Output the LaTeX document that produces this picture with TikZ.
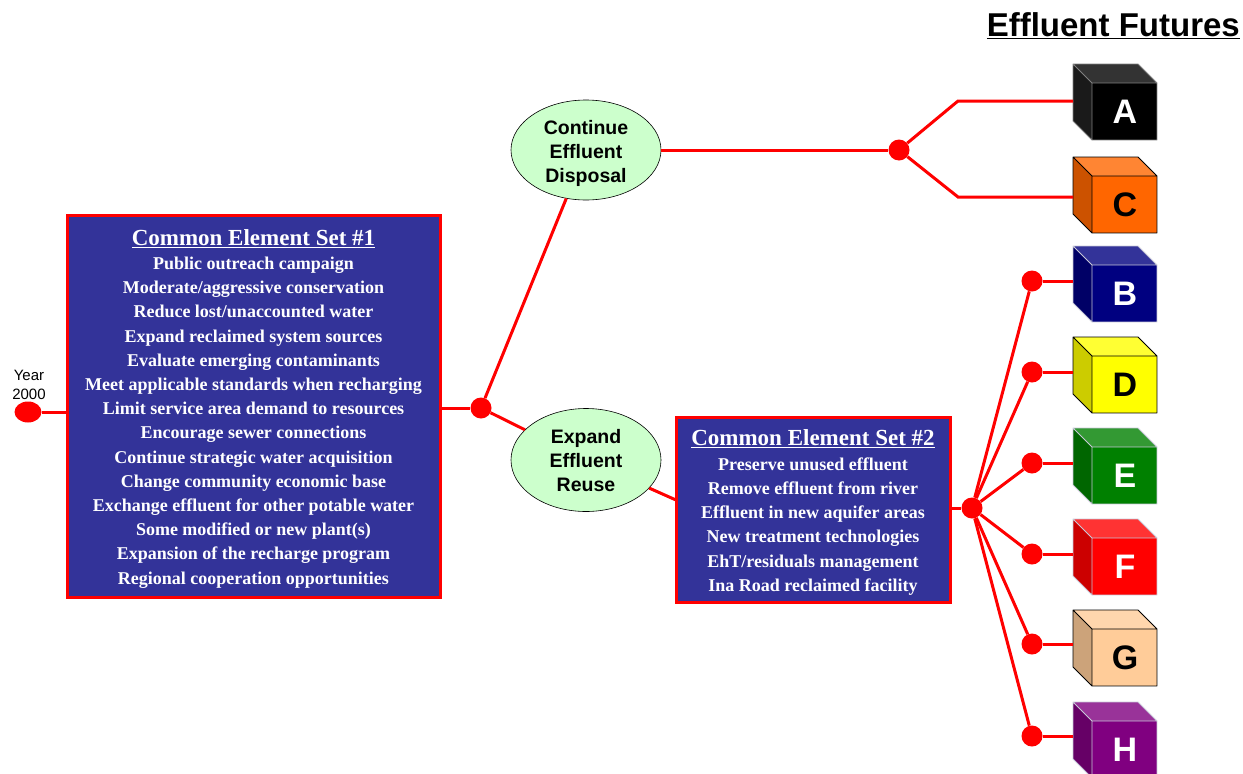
\documentclass[tikz,border=0pt]{standalone}
\usepackage{fontspec}
\setmainfont{Liberation Serif}
\newfontfamily\arialf{Liberation Sans}
\usetikzlibrary{shapes.geometric}
\definecolor{boxblue}{HTML}{333399}
\definecolor{ellgreen}{HTML}{CCFFCC}
\definecolor{cFront}{HTML}{FF6600}\definecolor{cTop}{HTML}{FF8533}\definecolor{cSide}{HTML}{CC5200}
\definecolor{bFront}{HTML}{000080}\definecolor{bTop}{HTML}{333399}\definecolor{bSide}{HTML}{000066}
\definecolor{dFront}{HTML}{FFFF00}\definecolor{dTop}{HTML}{FFFF33}\definecolor{dSide}{HTML}{CCCC00}
\definecolor{eFront}{HTML}{008000}\definecolor{eTop}{HTML}{339933}\definecolor{eSide}{HTML}{006600}
\definecolor{fFront}{HTML}{FF0000}\definecolor{fTop}{HTML}{FF3333}\definecolor{fSide}{HTML}{CC0000}
\definecolor{gFront}{HTML}{FFCC99}\definecolor{gTop}{HTML}{FFD6AD}\definecolor{gSide}{HTML}{CCA37A}
\definecolor{hFront}{HTML}{800080}\definecolor{hTop}{HTML}{993399}\definecolor{hSide}{HTML}{660066}
\definecolor{aFront}{HTML}{000000}\definecolor{aTop}{HTML}{333333}\definecolor{aSide}{HTML}{1A1A1A}
\definecolor{lightedge}{HTML}{C8C8D8}
\newcommand\settitlefont{\fontsize{23}{24.2}\selectfont}
\newcommand\effcube[9]{%
  % #1 letter, #2 x0, #3 y0, #4 front, #5 top, #6 side, #7 edge, #8 letter colour, #9 connector offset
  \fill[#5] (#2,#3) -- ++(65,0) -- ++(19,19) -- ++(-65,0) -- cycle;
  \fill[#6] (#2,#3) -- ++(19,19) -- ++(0,57) -- ++(-19,-19) -- cycle;
  \fill[#4] ({#2+19},{#3+19}) rectangle ({#2+84},{#3+76});
  \draw[#7,line width=0.9pt,line join=round] (#2,#3) -- ++(65,0) -- ++(19,19) -- ++(0,57) -- ++(-65,0) -- ++(-19,-19) -- cycle
     ({#2+19},{#3+76}) -- ++(0,-57) -- ++(65,0) ({#2+19},{#3+19}) -- (#2,#3);
  \node[font=\arialf\bfseries\fontsize{34}{34}\selectfont, text=#8, inner sep=0pt] (cube#1) at ({#2+52},{#3+48}) {#1};
  \coordinate (in#1) at (#2,{#3+#9});
}
\begin{document}
\begin{tikzpicture}[x=1pt,y=-1pt,
  conn/.style={draw=red,line width=3pt},
  dot/.style={circle,fill=red,inner sep=0pt,minimum size=21pt},
  setbox/.style={draw=red,line width=3pt,fill=boxblue,inner sep=0pt},
  settext/.style={text=white,align=center,inner sep=0pt,font=\bfseries\fontsize{18}{24.2}\selectfont},
  choice/.style={ellipse,draw=black,line width=0.6pt,fill=ellgreen,inner sep=0pt,
     minimum width=150pt,minimum height=100pt},
  choicetext/.style={align=center,inner sep=0pt,font=\arialf\bfseries\fontsize{19.5}{24}\selectfont}]
\useasboundingbox (0,0) rectangle (1243,774);

% title
\node[anchor=base east, inner sep=0pt, font=\arialf\bfseries\fontsize{33}{33}\selectfont] (title) at (1240,36.5) {\underline{Effluent Futures}};

% year
\node[align=center, inner sep=0pt, font=\arialf\fontsize{15}{19}\selectfont] (year) at (29,385) {Year\\2000};
\node[ellipse, fill=red, inner sep=0pt, minimum width=27pt, minimum height=21pt] (yr) at (28,412) {};

% set 1
\node[setbox, minimum width=373pt, minimum height=382pt] (box1) at (253.5,406) {};
\node[settext] (box1t) at (253.5,409) {%
{\settitlefont\underline{Common Element Set \#1}}\\[-0.5pt]
Public outreach campaign\\
Moderate/aggressive conservation\\
Reduce lost/unaccounted water\\
Expand reclaimed system sources\\
Evaluate emerging contaminants\\
Meet applicable standards when recharging\\
Limit service area demand to resources\\
Encourage sewer connections\\
Continue strategic water acquisition\\
Change community economic base\\
Exchange effluent for other potable water\\
Some modified or new plant(s)\\
Expansion of the recharge program\\
Regional cooperation opportunities};

% set 2
\node[setbox, minimum width=274pt, minimum height=185pt] (box2) at (813,509.5) {};
\node[settext] (box2t) at (813,512.5) {%
{\settitlefont\underline{Common Element Set \#2}}\\[0.5pt]
Preserve unused effluent\\
Remove effluent from river\\
Effluent in new aquifer areas\\
New treatment technologies\\
EhT/residuals management\\
Ina Road reclaimed facility};

% ellipses
\node[choice] (cont) at (586,150) {};
\node[choicetext] (contt) at (586,153) {Continue\\Effluent\\Disposal};
\node[choice, minimum height=103pt] (expand) at (586,460) {};
\node[choicetext] (expandt) at (586,461) {Expand\\Effluent\\Reuse};

% junctions
\node[dot] (j1) at (481,408) {};
\node[dot] (j3) at (899,150) {};
\node[dot] (j2) at (972,508) {};
\foreach \n/\y in {B/281,D/372,E/463,F/554,G/644,H/736}{
  \node[dot] (k\n) at (1032,\y) {};
}
\coordinate (bA) at (958,101);
\coordinate (bC) at (958,197);
\coordinate (b2in) at (676,500);

% cubes
\effcube{A}{1073}{64}{aFront}{aTop}{aSide}{gray}{white}{37}
\effcube{C}{1073}{157}{cFront}{cTop}{cSide}{black}{black}{40}
\effcube{B}{1073}{246}{bFront}{bTop}{bSide}{lightedge}{white}{35}
\effcube{D}{1073}{337}{dFront}{dTop}{dSide}{black}{black}{35}
\effcube{E}{1073}{428}{eFront}{eTop}{eSide}{lightedge}{white}{35}
\effcube{F}{1073}{519}{fFront}{fTop}{fSide}{lightedge}{white}{35}
\effcube{G}{1073}{610}{gFront}{gTop}{gSide}{black}{black}{34}
\effcube{H}{1073}{702}{hFront}{hTop}{hSide}{lightedge}{white}{34}

% connectors
\draw[conn] (yr) -- (yr -| box1.west);
\draw[conn] (box1.east |- j1) -- (j1);
\draw[conn] (j1) -- (cont);
\draw[conn] (j1) -- (expand);
\draw[conn] (expand) -- (b2in);
\draw[conn] (box2.east |- j2) -- (j2);
\draw[conn] (cont.east) -- (j3);
\draw[conn] (j3) -- (bA) -- (inA);
\draw[conn] (j3) -- (bC) -- (inC);
\foreach \n in {B,D,E,F,G,H}{
  \draw[conn] (j2) -- (k\n);
  \draw[conn] (k\n) -- (in\n);
}
\end{tikzpicture}
\end{document}
